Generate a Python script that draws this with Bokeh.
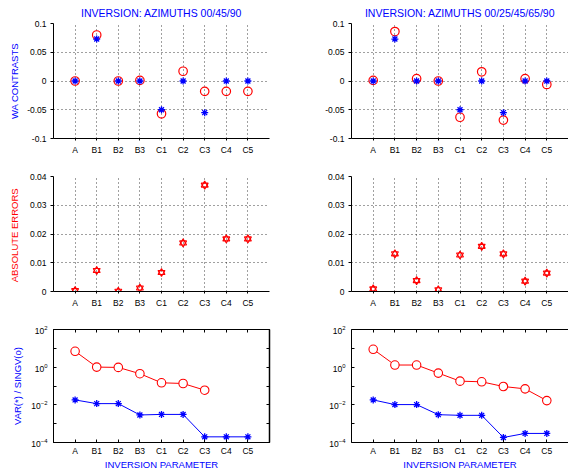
from bokeh.plotting import figure
from bokeh.layouts import row, column
from bokeh.models import FixedTicker, LinearAxis, LogAxis, Range1d
from bokeh.embed import file_html
from bokeh.resources import INLINE

# ---------------- data ----------------
categories = ["A", "B1", "B2", "B3", "C1", "C2", "C3", "C4", "C5"]
titles = ["INVERSION: AZIMUTHS 00/45/90", "INVERSION: AZIMUTHS 00/25/45/65/90"]

wa_true_left = [0.0, 0.073, 0.0, 0.0, -0.050, 0.0, -0.055, 0.0, 0.0]
wa_inv_left = [0.0, 0.080, 0.0, 0.001, -0.057, 0.017, -0.018, -0.018, -0.018]
wa_true_right = [0.0, 0.073, 0.0, 0.0, -0.050, 0.0, -0.055, 0.0, 0.0]
wa_inv_right = [0.001, 0.086, 0.004, 0.0, -0.063, 0.016, -0.068, 0.004, -0.006]

err_left = [0.0003, 0.0073, 0.0001, 0.0012, 0.0066, 0.0169, 0.0370, 0.0183, 0.0183]
err_right = [0.0009, 0.0131, 0.0038, 0.0006, 0.0127, 0.0157, 0.0131, 0.0036, 0.0064]

singv_left = [6.97, 1.01, 0.97, 0.45, 0.148, 0.136, 0.060]
var_left = [0.0182, 0.0116, 0.0116, 0.0029, 0.0031, 0.0031, 0.0002, 0.0002, 0.0002]
singv_right = [8.9, 1.30, 1.30, 0.485, 0.181, 0.167, 0.094, 0.0706, 0.0168]
var_right = [0.0182, 0.0103, 0.0103, 0.0030, 0.00277, 0.00277, 0.000185, 0.000303, 0.000303]

wa_ticks = [-0.1, -0.05, 0, 0.05, 0.1]
err_ticks = [0, 0.01, 0.02, 0.03, 0.04]
log_major = [1e-4, 1e-2, 1, 1e2]
log_minor = [1e-3, 1e-1, 10]

# ---------------- style ----------------
FONT = "Liberation Sans"
BLUE = "#0000ff"
RED = "#ff0000"
TICK_FS = "8.5px"
LAB_FS = "9.5px"

xs = list(range(1, len(categories) + 1))
x_over = {x: c for x, c in zip(xs, categories)}


def base_fig(col, rowi, y_range, y_type="linear"):
    w = 290 if col == 0 else 278
    h = [160, 150, 162][rowi]
    p = figure(
        width=w, height=h,
        x_range=Range1d(0, 10), y_range=y_range, y_axis_type=y_type,
        output_backend="svg", toolbar_location=None,
        min_border_left=53 if col == 0 else 61,
        min_border_right=21 if col == 0 else 0,
        min_border_top=[23, 16, 19][rowi],
        min_border_bottom=[22, 19, 30][rowi],
        background_fill_color="white", border_fill_color="white",
    )
    p.xaxis.ticker = FixedTicker(ticks=xs)
    p.xaxis.major_label_overrides = x_over
    p.xaxis.minor_tick_line_color = None
    for ax in p.xaxis + p.yaxis:
        ax.major_label_text_font = FONT
        ax.major_label_text_font_size = TICK_FS
        ax.major_label_text_color = "black"
        ax.axis_line_color = "black"
        ax.major_tick_line_color = "black"
        ax.axis_label_text_font = FONT
        ax.axis_label_text_font_size = LAB_FS
        ax.axis_label_text_font_style = "normal"
    return p


def dotted_grid(p):
    for g in (p.xgrid, p.ygrid):
        g.grid_line_color = "black"
        g.grid_line_dash = "1 3"
        g.grid_line_width = 1
        g.grid_line_alpha = 0.75


figs = []
# ---------------- row 1: WA contrasts ----------------
for col, (t, tru, inv) in enumerate([(titles[0], wa_true_left, wa_inv_left),
                                     (titles[1], wa_true_right, wa_inv_right)]):
    p = base_fig(col, 0, Range1d(-0.1, 0.1))
    p.title.text = t
    p.title.align = "center"
    p.title.text_color = BLUE
    p.title.text_font = FONT
    p.title.text_font_size = "10.5px"
    p.title.text_font_style = "normal"
    p.title.standoff = 9
    p.outline_line_color = None
    p.yaxis.ticker = FixedTicker(ticks=wa_ticks)
    p.yaxis.major_label_overrides = {v: str(v) for v in wa_ticks}
    p.yaxis.major_tick_out = 3
    p.yaxis.major_tick_in = 0
    p.yaxis.major_label_standoff = 4
    p.yaxis.minor_tick_line_color = None
    p.xaxis.major_tick_out = 2
    p.xaxis.major_tick_in = 0
    p.xaxis.major_label_standoff = 4
    dotted_grid(p)
    if col == 0:
        p.yaxis.axis_label = "WA CONTRASTS"
        p.yaxis.axis_label_text_color = BLUE
        p.yaxis.axis_label_standoff = 4
    p.scatter(xs, inv, marker="circle", size=8.5, fill_color=None,
              line_color=RED, line_width=1.2)
    p.scatter(xs, tru, marker="asterisk", size=7, line_color=BLUE, line_width=1.3)
    figs.append(p)

# ---------------- row 2: absolute errors ----------------
for col, err in enumerate([err_left, err_right]):
    p = base_fig(col, 1, Range1d(0, 0.04))
    p.outline_line_color = None
    p.yaxis.ticker = FixedTicker(ticks=err_ticks)
    p.yaxis.major_label_overrides = {v: str(v) for v in err_ticks}
    p.yaxis.major_tick_out = 3
    p.yaxis.major_tick_in = 0
    p.yaxis.major_label_standoff = 4
    p.yaxis.minor_tick_line_color = None
    p.xaxis.major_tick_out = 2
    p.xaxis.major_tick_in = 0
    p.xaxis.major_label_standoff = 4
    dotted_grid(p)
    if col == 0:
        p.yaxis.axis_label = "ABSOLUTE  ERRORS"
        p.yaxis.axis_label_text_color = RED
        p.yaxis.axis_label_standoff = 7
    p.scatter(xs, err, marker="triangle", size=7, fill_color=None,
              line_color=RED, line_width=1.1)
    p.scatter(xs, err, marker="inverted_triangle", size=7, fill_color=None,
              line_color=RED, line_width=1.1)
    figs.append(p)

# ---------------- row 3: variance / singular values ----------------
for col, (sv, var) in enumerate([(singv_left, var_left), (singv_right, var_right)]):
    p = base_fig(col, 2, Range1d(1e-4, 1e2), y_type="log")
    p.outline_line_color = "black" if col == 0 else None
    p.outline_line_alpha = 1
    p.xgrid.grid_line_color = None
    p.ygrid.grid_line_color = None
    p.yaxis.ticker = FixedTicker(ticks=log_major, minor_ticks=log_minor)
    p.yaxis.major_tick_in = 3
    p.yaxis.major_tick_out = 0
    p.yaxis.minor_tick_in = 3
    p.yaxis.minor_tick_out = 0
    p.yaxis.minor_tick_line_color = "black"
    p.yaxis.major_label_standoff = 6
    p.xaxis.major_tick_in = 3
    p.xaxis.major_tick_out = 0
    p.xaxis.major_label_standoff = 3
    p.xaxis.axis_label = "INVERSION PARAMETER"
    p.xaxis.axis_label_text_color = BLUE
    p.xaxis.axis_label_standoff = 0

    top = LinearAxis(ticker=FixedTicker(ticks=xs), major_tick_in=3, major_tick_out=0,
                     minor_tick_line_color=None, major_label_text_color=None,
                     major_label_text_font_size=TICK_FS,
                     major_label_standoff=0, axis_line_color="black")
    p.add_layout(top, "above")
    if col == 0:
        right = LogAxis(ticker=FixedTicker(ticks=log_major, minor_ticks=log_minor),
                        major_tick_in=3, major_tick_out=0, minor_tick_in=3, minor_tick_out=0,
                        major_label_text_color=None, major_label_text_font_size=TICK_FS,
                        major_label_standoff=0,
                        axis_line_color="black", axis_line_width=1.5)
        p.add_layout(right, "right")
        p.yaxis[0].axis_label = "VAR(*) / SINGV(o)"
        p.yaxis[0].axis_label_text_color = BLUE
        p.yaxis[0].axis_label_standoff = 5

    p.line(xs[:len(sv)], sv, line_color=RED, line_width=1)
    p.scatter(xs[:len(sv)], sv, marker="circle", size=8.5, fill_color="white",
              line_color=RED, line_width=1.1)
    p.line(xs[:len(var)], var, line_color=BLUE, line_width=1)
    p.scatter(xs[:len(var)], var, marker="asterisk", size=7, line_color=BLUE,
              line_width=1.3)
    figs.append(p)

layout = column(row(figs[0], figs[1]), row(figs[2], figs[3]), row(figs[4], figs[5]))

open("out.html", "w").write(file_html(layout, INLINE))
